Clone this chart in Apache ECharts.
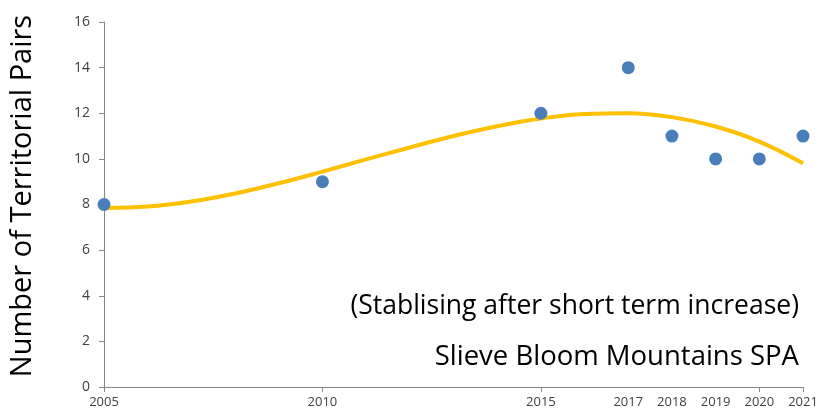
<!DOCTYPE html>
<html><head><meta charset="utf-8">
<script src="https://cdn.jsdelivr.net/npm/echarts@6/dist/echarts.min.js"></script>
<style>html,body{margin:0;padding:0;background:#fff}#c{width:823px;height:412px}</style>
</head><body><div id="c"></div>
<script>
const years = [2005, 2010, 2015, 2017, 2018, 2019, 2020, 2021];
const pairs = [8, 9, 12, 14, 11, 10, 10, 11];
const trendYears = [2005,2006,2007,2008,2009,2010,2011,2012,2013,2014,2015,2016,2017,2018,2019,2020,2021];
const trendValues = [7.85,7.91,8.13,8.48,8.93,9.44,9.98,10.5,11.0,11.43,11.77,11.97,12.0,11.83,11.42,10.76,9.81];
const yTicks = [0,2,4,6,8,10,12,14,16];
const yAxisTitle = 'Number of Territorial Pairs';
const note1 = '(Stablising after short term increase)';
const note2 = 'Slieve Bloom Mountains SPA';

const FONT = '"Open Sans", "Noto Sans", sans-serif';
const chart = echarts.init(document.getElementById('c'));
chart.setOption({
  animation: false,
  grid: {left: 104, right: 20, top: 22, bottom: 25, outerBoundsMode: 'none', containLabel: false},
  title: [
    {text: note1, right: 19, top: 288, textStyle: {fontFamily: FONT, fontSize: 26.5, fontWeight: 'normal', color: '#000'}},
    {text: note2, right: 19, top: 338, textStyle: {fontFamily: FONT, fontSize: 27.5, fontWeight: 'normal', color: '#000'}}
  ],
  graphic: [{
    type: 'text', x: 23, y: 196, rotation: Math.PI / 2,
    style: {text: yAxisTitle, fontFamily: FONT, fontSize: 29, fill: '#000', align: 'center', verticalAlign: 'middle'}
  }],
  xAxis: [{
    type: 'value', min: 2005, max: 2021, interval: 1,
    axisLine: {lineStyle: {color: '#868686'}},
    axisTick: {show: false},
    splitLine: {show: false},
    axisLabel: {
      color: '#404040', fontFamily: FONT, fontSize: 13, margin: 9,
      formatter: v => years.includes(v) ? String(v) : ''
    }
  }, {
    type: 'value', min: 2005, max: 2021, interval: 5, position: 'bottom',
    axisLine: {show: false},
    axisTick: {show: true, length: 5, lineStyle: {color: '#868686'}},
    axisLabel: {show: false},
    splitLine: {show: false}
  }],
  yAxis: {
    type: 'value', min: yTicks[0], max: yTicks[yTicks.length-1], interval: 2,
    axisLine: {show: true, lineStyle: {color: '#868686'}},
    axisTick: {show: true, length: 5, lineStyle: {color: '#868686'}},
    splitLine: {show: false},
    axisLabel: {color: '#404040', fontFamily: FONT, fontSize: 14, margin: 14}
  },
  series: [{
    type: 'line', xAxisIndex: 0,
    data: trendYears.map((y, i) => [y, trendValues[i]]),
    smooth: 0.4, showSymbol: false,
    lineStyle: {color: '#FFC000', width: 4},
    z: 2
  }, {
    type: 'scatter', xAxisIndex: 0,
    data: years.map((y, i) => [y, pairs[i]]),
    symbolSize: 13,
    itemStyle: {color: '#4A7EBB', opacity: 1},
    z: 3
  }]
});
</script></body></html>
